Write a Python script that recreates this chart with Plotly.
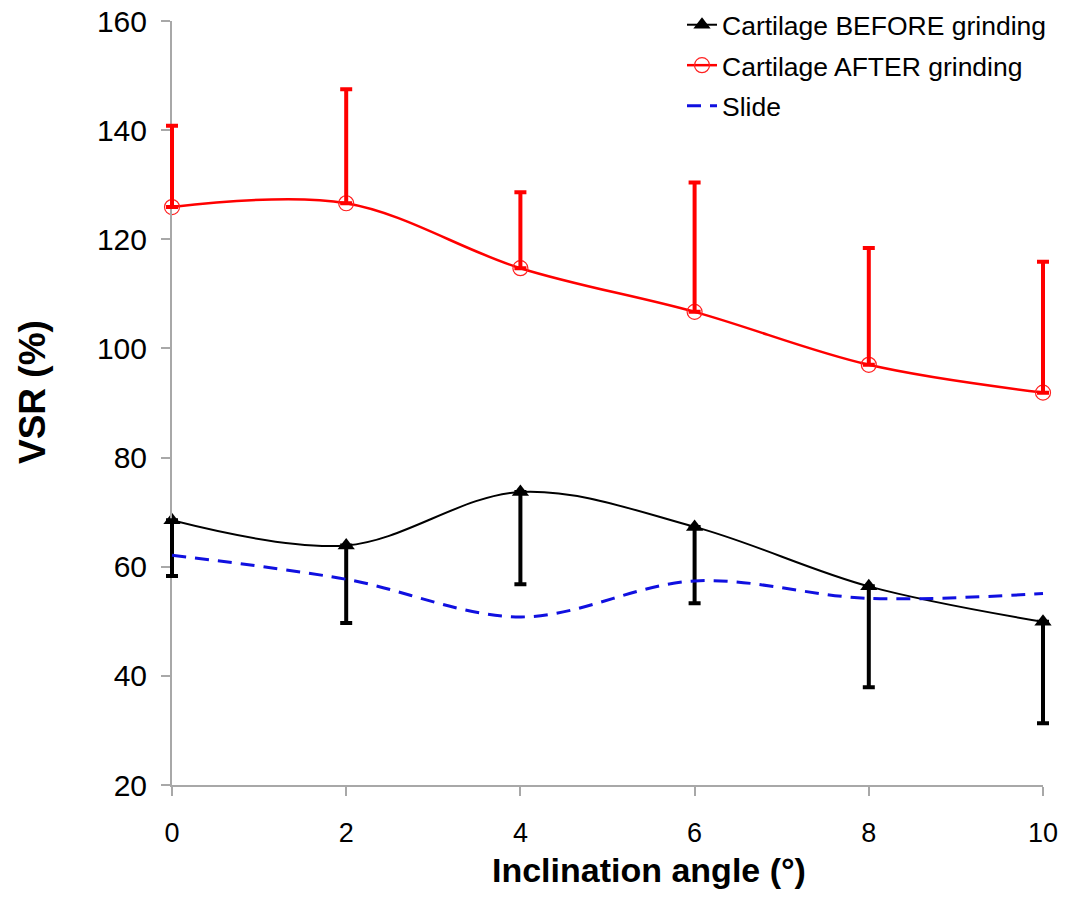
import plotly.graph_objects as go

angles = [0, 2, 4, 6, 8, 10]
before = [68.5, 63.9, 73.7, 67.3, 56.4, 49.9]
before_sd = [10.2, 14.2, 16.9, 14.0, 18.5, 18.6]
after = [125.9, 126.6, 114.7, 106.7, 97.0, 91.9]
after_sd = [14.9, 20.9, 13.9, 23.7, 21.4, 24.0]
slide = [62.1, 57.7, 50.8, 57.4, 54.2, 55.1]

y_ticks = [20, 40, 60, 80, 100, 120, 140, 160]
x_ticks = [0, 2, 4, 6, 8, 10]

FONT = "Liberation Sans, Arial, sans-serif"

# page geometry (pixels)
W, H = 1065, 902
PAPER_L, PAPER_R = 150, 0          # margins of paper area
PLOT_L, PLOT_R = 172, 1043         # plot area horizontal extent
PLOT_T, PLOT_B = 21, 785           # plot area vertical extent
paper_w = W - PAPER_L - PAPER_R
dom = [(PLOT_L - PAPER_L) / paper_w, (PLOT_R - PAPER_L) / paper_w]
x_min, x_max = 0, 10
upp = (x_max - x_min) / (PLOT_R - PLOT_L)
x2_range = [x_min - (PLOT_L - PAPER_L) * upp, x_max + (W - PAPER_R - PLOT_R) * upp]


def px_x(p):
    return (p - PAPER_L) / paper_w


def px_y(p):
    return (PLOT_B - p) / (PLOT_B - PLOT_T)


fig = go.Figure()

fig.add_trace(go.Scatter(
    x=angles, y=before, name="Cartilage BEFORE grinding", legendgroup="a",
    mode="lines+markers", line=dict(color="black", width=2, shape="spline"),
    marker=dict(symbol="triangle-up", size=15, color="black"),
    cliponaxis=False,
))

fig.add_trace(go.Scatter(
    x=angles, y=after, name="Cartilage AFTER grinding", legendgroup="b",
    mode="lines+markers", line=dict(color="#ff0000", width=2.5, shape="spline"),
    marker=dict(symbol="circle-open", size=15, color="#ff2020", line=dict(width=1.2)),
    cliponaxis=False,
))

# error bars on an invisible, wider x-axis so the ones at the edges are not clipped
fig.add_trace(go.Scatter(
    x=angles, y=before, xaxis="x2", yaxis="y", mode="markers", showlegend=False,
    marker=dict(size=1, color="rgba(0,0,0,0)"), hoverinfo="skip",
    error_y=dict(type="data", symmetric=False, array=[0] * len(before),
                 arrayminus=before_sd, color="black", thickness=4, width=6),
))
fig.add_trace(go.Scatter(
    x=angles, y=after, xaxis="x2", yaxis="y", mode="markers", showlegend=False,
    marker=dict(size=1, color="rgba(0,0,0,0)"), hoverinfo="skip",
    error_y=dict(type="data", symmetric=False, array=after_sd,
                 arrayminus=[0] * len(after), color="#ff0000", thickness=4, width=6),
))

fig.add_trace(go.Scatter(
    x=angles, y=slide, name="Slide", legendgroup="c", xaxis="x2", yaxis="y",
    mode="lines", line=dict(color="#1010e0", width=3, shape="spline", dash="14px,9px"),
))

axis_common = dict(showgrid=False, zeroline=False, showline=True, linecolor="#a8a8a8",
                   linewidth=2, ticks="outside", ticklen=9, tickcolor="#a8a8a8",
                   tickwidth=2)

fig.update_layout(
    width=W, height=H,
    margin=dict(l=PAPER_L, r=PAPER_R, t=PLOT_T, b=H - PLOT_B, autoexpand=False),
    paper_bgcolor="white", plot_bgcolor="rgba(0,0,0,0)",
    font=dict(family=FONT, color="black"),
    showlegend=True,
    legend=dict(x=px_x(682), y=px_y(1), xanchor="left", yanchor="top",
                font=dict(size=26.5, family=FONT), bgcolor="rgba(0,0,0,0)",
                tracegroupgap=3),
    xaxis=dict(domain=dom, range=[x_min, x_max], tickvals=x_ticks,
               ticktext=[str(v) for v in x_ticks],
               tickfont=dict(size=27, family=FONT), ticklabelstandoff=14, **axis_common),
    xaxis2=dict(domain=[0, 1], range=x2_range, anchor="y", visible=False,
                showgrid=False, zeroline=False),
    yaxis=dict(range=[20, 160], tickvals=y_ticks, ticktext=[str(v) for v in y_ticks],
               anchor="x", tickfont=dict(size=30, family=FONT), ticklabelstandoff=8,
               **axis_common),
    annotations=[
        dict(text="<b>Inclination angle (°)</b>", xref="paper", yref="paper",
             x=px_x(649), y=px_y(870), xanchor="center", yanchor="middle", showarrow=False,
             font=dict(size=34, family=FONT, color="black")),
        dict(text="<b>VSR (%)</b>", xref="paper", yref="paper",
             x=px_x(32), y=px_y(392), xanchor="center", yanchor="middle", showarrow=False,
             textangle=-90, font=dict(size=37, family=FONT, color="black")),
    ],
)

fig.write_html("out.html")
